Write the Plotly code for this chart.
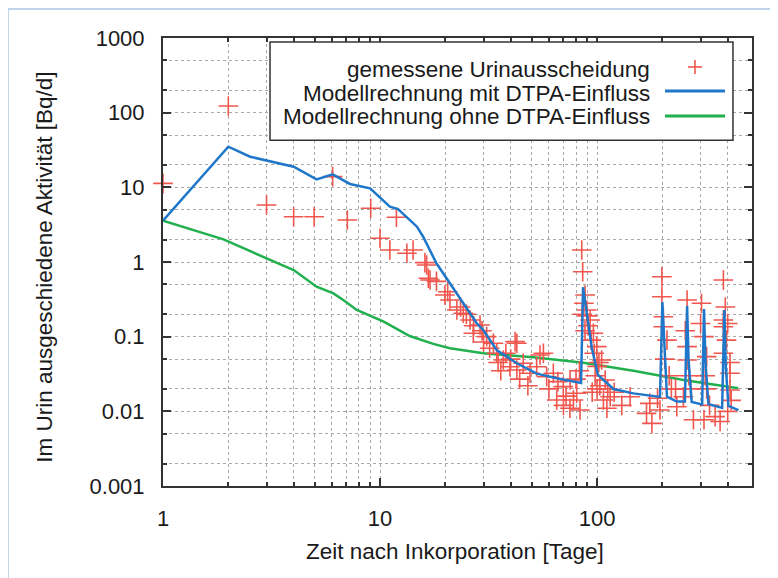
import plotly.graph_objects as go

# ---------------- data ----------------
blue_x = [1, 2, 2.52, 4.0, 5.1, 6.05, 7.27, 9.0, 11.1, 12.1, 14.8, 15.8, 18.2, 21.0, 22.6,
          27.9, 29.9, 34.5, 42.7, 52.7, 65.2, 84.4, 86.2, 89.7, 94.6, 101, 119, 147, 195,
          200, 204.7, 210, 233, 254, 260, 264, 273, 305, 311, 316, 326, 377, 386, 392, 403, 448]
blue_y = [3.57, 35, 25.7, 18.9, 12.8, 14.9, 11.1, 9.7, 5.5, 5.1, 2.97, 2.18, 0.96, 0.52, 0.38,
          0.151, 0.123, 0.066, 0.044, 0.032, 0.0277, 0.024, 0.46, 0.214, 0.0705, 0.0307, 0.0199,
          0.0174, 0.0156, 0.291, 0.066, 0.0157, 0.0135, 0.0135, 0.258, 0.05, 0.0133, 0.0124,
          0.235, 0.045, 0.0125, 0.0111, 0.228, 0.04, 0.0118, 0.0104]

green_x = [1, 1.9, 3.0, 4.0, 5.1, 6.1, 6.77, 7.81, 10.4, 13.7, 17.6, 21, 29.9, 50.9, 86.5, 147, 250, 448]
green_y = [3.57, 2.01, 1.12, 0.78, 0.467, 0.38, 0.31, 0.228, 0.159, 0.102, 0.080, 0.070, 0.060,
           0.053, 0.0448, 0.035, 0.0263, 0.0204]

meas_x = [1.0, 2.0, 3.0, 4.0, 4.97, 6.05, 7.07, 9.06, 11.9, 10.0, 11.1, 13.3, 14.2, 16.1, 16.7,
          16.4, 17.0, 18.2, 19.9, 21.0, 22.6, 24.2, 26.0, 26.9, 28.9, 31.0, 33.3, 34.5, 37.0,
          41.9, 39.7, 42.7, 45.7, 49.1, 52.7, 54.6, 58.6, 62.9, 69.9, 75.1, 80.6, 42.7, 56.6,
          65.2, 77.8, 83.5, 85, 85.9, 88.1, 89.7, 92.9, 96.2, 99.7, 105, 109, 107, 115, 111,
          142, 175, 169, 179, 199, 199, 202, 202, 210, 195, 233, 250, 260, 260, 260, 278, 303,
          311, 320, 311, 350, 382, 382, 382, 382, 410, 369, 410,
          205, 215, 220, 230, 190, 265, 255, 270, 300, 315, 320, 330, 390, 400, 395, 410, 415,
          400, 100, 103, 98, 112, 120, 130, 44, 48, 60, 66, 72, 80, 83, 75, 70,
          20.5, 23.5, 25, 27, 29.5, 30, 32, 35, 38, 40, 36,
          87, 90, 91, 94, 97, 102, 85.5, 88, 100, 95]
meas_y = [11.3, 123, 5.8, 4.04, 4.04, 13.9, 3.65, 5.24, 3.97, 2.08, 1.45, 1.31, 1.45, 0.98, 0.605,
          0.91, 0.574, 0.55, 0.361, 0.31, 0.228, 0.206, 0.167, 0.111, 0.143, 0.1, 0.0815, 0.060,
          0.0487, 0.0857, 0.0396, 0.0358, 0.044, 0.0324, 0.0396, 0.0569, 0.0291, 0.0324, 0.0214,
          0.0263, 0.0175, 0.0815, 0.060, 0.0142, 0.0142, 0.0104, 1.45, 0.74, 0.361, 0.228, 0.167,
          0.111, 0.0735, 0.0487, 0.0263, 0.0142, 0.0157, 0.011, 0.0157, 0.0128, 0.0094, 0.0069,
          0.636, 0.343, 0.185, 0.136, 0.090, 0.0104, 0.0115, 0.0157, 0.31, 0.0735, 0.0487, 0.0077,
          0.28, 0.1, 0.054, 0.0077, 0.0085, 0.574, 0.167, 0.136, 0.060, 0.0324, 0.0073, 0.0193,
          0.05, 0.03, 0.02, 0.02, 0.015, 0.03, 0.12, 0.02, 0.15, 0.03, 0.02, 0.012, 0.25, 0.15,
          0.09, 0.045, 0.014, 0.01, 0.04, 0.022, 0.03, 0.02, 0.018, 0.012, 0.027, 0.022, 0.02,
          0.025, 0.016, 0.027, 0.035, 0.011, 0.012,
          0.4, 0.25, 0.2, 0.14, 0.12, 0.085, 0.07, 0.045, 0.06, 0.05, 0.035,
          0.28, 0.19, 0.14, 0.09, 0.06, 0.045, 0.2, 0.12, 0.02, 0.018]

x_major = [1, 10, 100]
x_major_text = ["1", "10", "100"]
x_minor = [2, 3, 4, 5, 6, 7, 8, 9, 20, 30, 40, 50, 60, 70, 80, 90, 200, 300, 400]
y_major = [0.001, 0.01, 0.1, 1, 10, 100, 1000]
y_major_text = ["0.001", "0.01", "0.1", "1", "10", "100", "1000"]
y_minor = [0.002, 0.005, 0.02, 0.05, 0.2, 0.5, 2, 5, 20, 50, 200, 500]

legend_names = ["gemessene Urinausscheidung",
                "Modellrechnung mit DTPA-Einfluss",
                "Modellrechnung ohne DTPA-Einfluss"]
x_title = "Zeit nach Inkorporation [Tage]"
y_title = "Im Urin ausgeschiedene Aktivität [Bq/d]"

RED = "#f0564e"
BLUE = "#1f77c9"
GREEN = "#22b04e"
FONT = "Arial, Liberation Sans, sans-serif"
TXT = "#1a1a1a"
GRID = "#a8a8a8"
AX = "#333333"

fig = go.Figure()
fig.add_trace(go.Scatter(x=green_x, y=green_y, mode="lines", name=legend_names[2],
                         line=dict(color=GREEN, width=2.5), showlegend=False))
fig.add_trace(go.Scatter(x=meas_x, y=meas_y, mode="markers", name=legend_names[0],
                         marker=dict(symbol="cross-thin", size=14, color=RED,
                                     line=dict(color=RED, width=1.6)),
                         cliponaxis=False, showlegend=False))
fig.add_trace(go.Scatter(x=blue_x, y=blue_y, mode="lines", name=legend_names[1],
                         line=dict(color=BLUE, width=2.5), showlegend=False))

axis_common = dict(type="log", showline=True, linecolor=AX, linewidth=2, mirror="ticks",
                   ticks="inside", ticklen=8, tickcolor=AX, tickwidth=1.5,
                   showgrid=True, gridcolor=GRID, griddash="dot", gridwidth=1,
                   zeroline=False, tickfont=dict(family=FONT, size=22, color=TXT))

fig.update_xaxes(**axis_common, range=[0, 2.714], tickvals=x_major, ticktext=x_major_text,
                 ticklabelstandoff=12,
                 minor=dict(tickvals=x_minor, ticks="inside", ticklen=4, tickcolor=AX,
                            showgrid=True, gridcolor=GRID, griddash="dot", gridwidth=1))
fig.update_yaxes(**axis_common, range=[-3, 3], tickvals=y_major, ticktext=y_major_text,
                 ticklabelstandoff=12,
                 minor=dict(tickvals=y_minor, ticks="inside", ticklen=4, tickcolor=AX,
                            showgrid=True, gridcolor=GRID, griddash="dot", gridwidth=1))

# ---------------- legend (gnuplot style: text right-aligned, sample at right) -------------
shapes = [
    dict(type="rect", xref="paper", yref="paper", x0=0.1817, x1=0.9677, y0=0.772, y1=0.991,
         line=dict(color=AX, width=1.5), fillcolor="white", layer="above"),
    dict(type="line", xref="paper", yref="paper", x0=0.8913, x1=0.9151, y0=0.9353, y1=0.9353,
         line=dict(color=RED, width=1.6)),
    dict(type="line", xref="paper", yref="paper", x0=0.9032, x1=0.9032, y0=0.9197, y1=0.9509,
         line=dict(color=RED, width=1.6)),
    dict(type="line", xref="paper", yref="paper", x0=0.8523, x1=0.9542, y0=0.8817, y1=0.8817,
         line=dict(color=BLUE, width=3)),
    dict(type="line", xref="paper", yref="paper", x0=0.8523, x1=0.9542, y0=0.8259, y1=0.8259,
         line=dict(color=GREEN, width=3)),
    # light blue frame of the picture
    dict(type="line", xref="paper", yref="paper", x0=-0.2632, x1=-0.2632, y0=-0.3, y1=1.0647,
         line=dict(color="#a7c6e6", width=1.5)),
    dict(type="line", xref="paper", yref="paper", x0=-0.2632, x1=1.1, y0=1.0647, y1=1.0647,
         line=dict(color="#a7c6e6", width=1.5)),
]

annotations = []
for name, yp in zip(legend_names, [0.9286, 0.876, 0.8237]):
    annotations.append(dict(text=name, xref="paper", yref="paper", x=0.830, y=yp,
                            xanchor="right", yanchor="middle", showarrow=False,
                            font=dict(family=FONT, size=22.5, color=TXT)))
annotations.append(dict(text=x_title, xref="paper", yref="paper", x=0.496, y=-0.1473,
                        xanchor="center", yanchor="middle", showarrow=False,
                        font=dict(family=FONT, size=22.5, color=TXT)))
annotations.append(dict(text=y_title, xref="paper", yref="paper", x=-0.2003, y=0.487,
                        xanchor="center", yanchor="middle", showarrow=False, textangle=-90,
                        font=dict(family=FONT, size=22.5, color=TXT)))

# the page body adds an 8 px offset, so margins are shifted by 8 px
fig.update_layout(width=778, height=578, margin=dict(l=155, r=34, t=30, b=100),
                  paper_bgcolor="white", plot_bgcolor="white", showlegend=False,
                  shapes=shapes, annotations=annotations)

fig.write_html("out.html")
